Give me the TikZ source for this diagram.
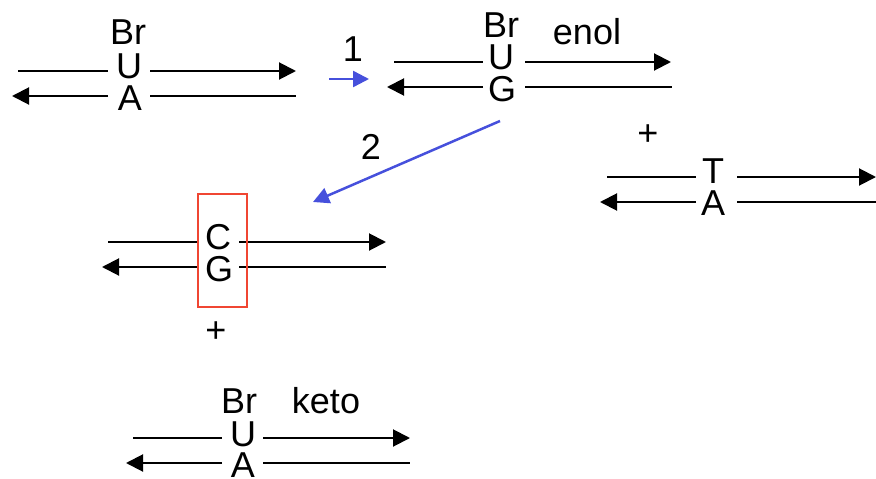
\documentclass[tikz,border=0pt]{standalone}
\usepackage{fontspec}
\setmainfont{Liberation Sans}
\usetikzlibrary{arrows.meta}
\begin{document}
\begin{tikzpicture}[x=1pt,y=-1pt,
  lbl/.style={inner sep=0pt,anchor=base,font=\fontsize{36}{42}\selectfont},
  strand/.style={line width=2pt},
  fwd/.style={strand,-{Triangle[length=17pt,width=17pt]}},
  blue arrow/.style={line width=2.5pt,draw={rgb,255:red,70;green,80;blue,220},-{Triangle[length=16pt,width=16pt]}}]
\useasboundingbox (0,0) rectangle (876,479);
% ---------- group 1
\node[lbl] (br1) at (128,44) {Br};
\node[lbl] (u1) at (129,78) {U};
\node[lbl] (a1) at (130,110) {A};
\coordinate (t1a) at (18,71); \coordinate (t1b) at (108,71);
\coordinate (t1c) at (150,71); \coordinate (t1d) at (296,71);
\coordinate (b1a) at (12,96); \coordinate (b1b) at (108,96);
\coordinate (b1c) at (150,96); \coordinate (b1d) at (296,96);
\draw[strand] (t1a) -- (t1b);
\draw[fwd] (t1c) -- (t1d);
\draw[fwd] (b1b) -- (b1a);
\draw[strand] (b1c) -- (b1d);
% arrow 1
\node[lbl] (n1) at (353,61) {1};
\coordinate (ar1a) at (329,79); \coordinate (ar1b) at (369,79);
\draw[blue arrow] (ar1a) -- (ar1b);
% ---------- group 2
\node[lbl] (br2) at (501,37) {Br};
\node[lbl] (enol) at (587,45) {enol};
\node[lbl] (u2) at (501,69) {U};
\node[lbl] (g2) at (502,101) {G};
\coordinate (t2a) at (394,62); \coordinate (t2b) at (483,62);
\coordinate (t2c) at (525,62); \coordinate (t2d) at (671,62);
\coordinate (b2a) at (387,87); \coordinate (b2b) at (483,87);
\coordinate (b2c) at (525,87); \coordinate (b2d) at (672,87);
\draw[strand] (t2a) -- (t2b);
\draw[fwd] (t2c) -- (t2d);
\draw[fwd] (b2b) -- (b2a);
\draw[strand] (b2c) -- (b2d);
\node[lbl,anchor=center] (plus1) at (648,135) {+};
% ---------- group 3
\node[lbl] (t3) at (713,183) {T};
\node[lbl] (a3) at (713,215) {A};
\coordinate (t3a) at (607,177); \coordinate (t3b) at (696,177);
\coordinate (t3c) at (737,177); \coordinate (t3d) at (876,177);
\coordinate (b3a) at (600,202); \coordinate (b3b) at (696,202);
\coordinate (b3c) at (737,202); \coordinate (b3d) at (876,202);
\draw[strand] (t3a) -- (t3b);
\draw[fwd] (t3c) -- (t3d);
\draw[fwd] (b3b) -- (b3a);
\draw[strand] (b3c) -- (b3d);
% arrow 2
\node[lbl] (n2) at (371,159) {2};
\coordinate (ar2a) at (500,121); \coordinate (ar2b) at (313,202);
\draw[blue arrow] (ar2a) -- (ar2b);
% ---------- group 4
\node[lbl] (c4) at (218,249) {C};
\node[lbl] (g4) at (219,281) {G};
\coordinate (t4a) at (108,242); \coordinate (t4b) at (198,242);
\coordinate (t4c) at (239,242); \coordinate (t4d) at (386,242);
\coordinate (b4a) at (102,267); \coordinate (b4b) at (198,267);
\coordinate (b4c) at (239,267); \coordinate (b4d) at (386,267);
\draw[strand] (t4a) -- (t4b);
\draw[fwd] (t4c) -- (t4d);
\draw[fwd] (b4b) -- (b4a);
\draw[strand] (b4c) -- (b4d);
\draw[draw={rgb,255:red,240;green,70;blue,50},line width=1.5pt] (198,194) rectangle (247,307);
\node[lbl,anchor=center] (plus2) at (216,332) {+};
% ---------- group 5
\node[lbl] (br5) at (239,413) {Br};
\node[lbl] (keto) at (326,413) {keto};
\node[lbl] (u5) at (243,446) {U};
\node[lbl] (a5) at (243,477) {A};
\coordinate (t5a) at (133,438); \coordinate (t5b) at (222,438);
\coordinate (t5c) at (263,438); \coordinate (t5d) at (410,438);
\coordinate (b5a) at (126,463); \coordinate (b5b) at (222,463);
\coordinate (b5c) at (263,463); \coordinate (b5d) at (410,463);
\draw[strand] (t5a) -- (t5b);
\draw[fwd] (t5c) -- (t5d);
\draw[fwd] (b5b) -- (b5a);
\draw[strand] (b5c) -- (b5d);
\end{tikzpicture}
\end{document}
